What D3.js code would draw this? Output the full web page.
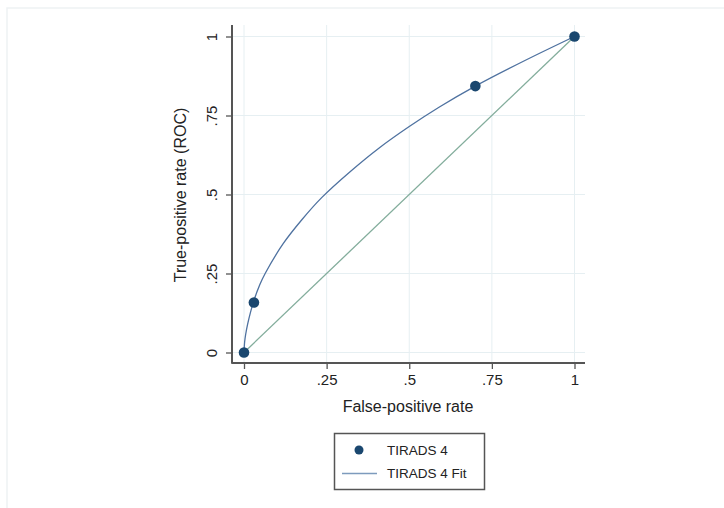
<!DOCTYPE html>
<html>
<head>
<meta charset="utf-8">
<script src="https://cdn.jsdelivr.net/npm/d3@7"></script>
<style>
  body { margin: 0; background: #fff; }
  text { font-family: "Liberation Sans", Arial, sans-serif; fill: #222; }
</style>
</head>
<body>
<div id="chart"></div>
<script>
// ---------- DATA ---------- //
var ticks = [0, 0.25, 0.5, 0.75, 1];
var tickLabels = ["0", ".25", ".5", ".75", "1"];

// observed operating points (FPR, TPR)
var pointFpr = [0, 0.03, 0.70, 1];
var pointTpr = [0, 0.158, 0.843, 1];

// fitted curve
var fitFpr = [0, 0.002, 0.005, 0.011, 0.028, 0.048, 0.064, 0.119, 0.175, 0.235, 0.321, 0.41, 0.5, 0.59, 0.70, 0.85, 1];
var fitTpr = [0, 0.034, 0.057, 0.09, 0.158, 0.215, 0.25, 0.345, 0.42, 0.49, 0.572, 0.648, 0.715, 0.776, 0.843, 0.924, 1];

var legendLabels = ["TIRADS 4", "TIRADS 4 Fit"];

// ---------- CHART ---------- //
var W = 724, H = 508;
var navy = "#1a476f", fitColor = "#4f72a0", diagColor = "#83ad9c",
    gridColor = "#e6eff2", axisColor = "#555";

var svg = d3.select("#chart").append("svg")
  .attr("width", W).attr("height", H);

// faint outer frame
svg.append("path")
  .attr("d", "M7," + H + "V8H" + W)
  .attr("fill", "none").attr("stroke", "#eef2f4").attr("stroke-width", 1.5);

var x = d3.scaleLinear().domain([0, 1]).range([244, 574.5]);
var y = d3.scaleLinear().domain([0, 1]).range([352.5, 36.5]);
var axX = 232, axY = 363, plotRight = 585, plotTop = 25;

// grid
svg.append("g").selectAll("line").data(ticks).enter().append("line")
  .attr("x1", axX).attr("x2", plotRight)
  .attr("y1", d => y(d)).attr("y2", d => y(d))
  .attr("stroke", gridColor).attr("stroke-width", 1);
svg.append("g").selectAll("line").data(ticks).enter().append("line")
  .attr("y1", plotTop).attr("y2", axY)
  .attr("x1", d => x(d)).attr("x2", d => x(d))
  .attr("stroke", gridColor).attr("stroke-width", 1);

// axes
var yAxis = d3.axisLeft(y).tickValues(ticks).tickSize(6)
  .tickFormat((d, i) => tickLabels[i]);
var xAxis = d3.axisBottom(x).tickValues(ticks).tickSize(6).tickPadding(5)
  .tickFormat((d, i) => tickLabels[i]);

var gy = svg.append("g").attr("transform", "translate(" + axX + ",0)").call(yAxis);
var gx = svg.append("g").attr("transform", "translate(0," + axY + ")").call(xAxis);
[gx, gy].forEach(function (g) {
  g.select(".domain").remove();
  g.selectAll(".tick line").attr("stroke", axisColor).attr("stroke-width", 1.3);
  g.selectAll(".tick text").attr("font-size", 15).attr("fill", "#222")
    .style("font-family", "'Liberation Sans', Arial, sans-serif");
});
// y labels rotated around their own anchor
gy.selectAll(".tick text")
  .attr("text-anchor", "middle")
  .attr("transform", "translate(-20,0) rotate(-90)")
  .attr("x", 0).attr("y", 0).attr("dy", "0.35em");

svg.append("line").attr("x1", axX).attr("x2", axX).attr("y1", plotTop).attr("y2", axY + 0.75)
  .attr("stroke", axisColor).attr("stroke-width", 2);
svg.append("line").attr("x1", axX).attr("x2", plotRight).attr("y1", axY).attr("y2", axY)
  .attr("stroke", axisColor).attr("stroke-width", 2);

// axis titles
svg.append("text").attr("x", 408).attr("y", 412).attr("text-anchor", "middle")
  .attr("font-size", 16).text("False-positive rate");
svg.append("text").attr("transform", "translate(186,195) rotate(-90)")
  .attr("text-anchor", "middle").attr("font-size", 16).text("True-positive rate (ROC)");

// diagonal reference
svg.append("line")
  .attr("x1", x(0)).attr("y1", y(0)).attr("x2", x(1)).attr("y2", y(1))
  .attr("stroke", diagColor).attr("stroke-width", 1.3);

// fitted curve
var fitData = fitFpr.map((f, i) => [f, fitTpr[i]]);
var line = d3.line().x(d => x(d[0])).y(d => y(d[1])).curve(d3.curveCatmullRom.alpha(0.5));
svg.append("path").datum(fitData)
  .attr("d", line).attr("fill", "none")
  .attr("stroke", fitColor).attr("stroke-width", 1.3);

// points
svg.append("g").selectAll("circle").data(pointFpr).enter().append("circle")
  .attr("cx", d => x(d)).attr("cy", (d, i) => y(pointTpr[i]))
  .attr("r", 5.3).attr("fill", navy);

// legend
var lg = svg.append("g");
lg.append("rect").attr("x", 334.5).attr("y", 433.5).attr("width", 150).attr("height", 56)
  .attr("fill", "#fff").attr("stroke", "#555").attr("stroke-width", 1.5);
lg.append("circle").attr("cx", 359).attr("cy", 450).attr("r", 4.5).attr("fill", navy);
lg.append("line").attr("x1", 342).attr("x2", 377).attr("y1", 473.5).attr("y2", 473.5)
  .attr("stroke", "#7d9bbd").attr("stroke-width", 1.5);
lg.selectAll("text").data(legendLabels).enter().append("text")
  .attr("x", 387).attr("y", (d, i) => 450 + i * 23.5).attr("dy", "0.35em")
  .attr("font-size", 13.5).text(d => d);
</script>
</body>
</html>
